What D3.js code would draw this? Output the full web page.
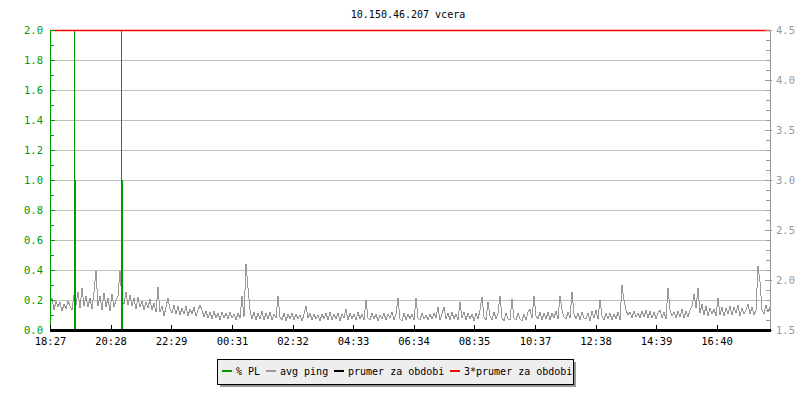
<!DOCTYPE html>
<html><head><meta charset="utf-8">
<script src="https://cdn.jsdelivr.net/npm/d3@7"></script>
<style>
html,body{margin:0;padding:0;background:#fff;}
svg{display:block;}
text{font-family:"DejaVu Sans Mono",monospace;}
</style></head>
<body><svg id="c" width="800" height="400"></svg>
<script>
const title = "10.150.46.207 vcera";
const timeLabels = ["18:27","20:28","22:29","00:31","02:32","04:33","06:34","08:35","10:37","12:38","14:39","16:40"];
const tickMinutes = [0,121,242,364,485,606,727,848,970,1091,1212,1333];
const spanMinutes = 1440;
const sampleStep = 4; // minutes between ping samples
const leftTicks = [0,0.2,0.4,0.6,0.8,1.0,1.2,1.4,1.6,1.8,2.0];
const rightTicks = [1.5,2.0,2.5,3.0,3.5,4.0,4.5];
const legendLabels = ["% PL","avg ping","prumer za obdobi","3*prumer za obdobi"];
const legendColors = ["#009900","#999999","#000000","#ff0000"];
const plMinutes = [49,51,143,145];
const plValues = [2.0,1.0,2.0,1.0];
const meanPing = 1.5;
const tripleMean = 4.5;
const pingValues = [
1.76,1.82,1.70,1.79,1.73,1.78,1.69,1.76,1.71,1.79,1.74,1.70,1.85,1.75,1.88,1.72,1.92,1.74,1.84,1.73,
1.82,1.71,1.88,2.09,1.74,1.84,1.70,1.87,1.73,1.82,1.69,1.86,1.73,1.80,1.84,2.09,1.80,1.76,1.88,1.75,
1.85,1.74,1.82,1.71,1.83,1.73,1.79,1.70,1.78,1.72,1.81,1.70,1.77,1.68,1.93,1.68,1.74,1.64,1.73,1.82,
1.71,1.67,1.75,1.66,1.74,1.65,1.72,1.66,1.74,1.64,1.71,1.66,1.73,1.64,1.70,1.75,1.70,1.63,1.69,1.62,
1.68,1.61,1.69,1.62,1.67,1.60,1.68,1.62,1.67,1.61,1.68,1.62,1.66,1.60,1.67,1.62,1.84,1.63,2.16,1.92,
1.70,1.61,1.68,1.60,1.67,1.61,1.69,1.60,1.67,1.61,1.68,1.60,1.66,1.62,1.84,1.63,1.60,1.67,1.59,1.66,
1.61,1.67,1.60,1.66,1.61,1.65,1.59,1.66,1.74,1.62,1.67,1.60,1.66,1.61,1.65,1.59,1.66,1.61,1.67,1.60,
1.68,1.60,1.66,1.61,1.67,1.59,1.66,1.62,1.71,1.60,1.67,1.61,1.66,1.60,1.68,1.61,1.66,1.60,1.80,1.62,
1.60,1.67,1.61,1.66,1.59,1.65,1.61,1.67,1.60,1.66,1.62,1.68,1.60,1.66,1.82,1.61,1.59,1.67,1.60,1.66,
1.61,1.66,1.60,1.82,1.62,1.60,1.67,1.61,1.65,1.60,1.66,1.61,1.67,1.62,1.73,1.60,1.66,1.73,1.61,1.67,
1.60,1.68,1.61,1.66,1.60,1.78,1.62,1.68,1.60,1.67,1.61,1.66,1.59,1.67,1.61,1.70,1.83,1.63,1.60,1.78,
1.64,1.60,1.68,1.61,1.67,1.84,1.62,1.59,1.67,1.61,1.60,1.81,1.62,1.60,1.67,1.61,1.59,1.66,1.60,1.68,
1.71,1.62,1.84,1.64,1.61,1.68,1.60,1.67,1.61,1.68,1.60,1.67,1.62,1.69,1.61,1.84,1.70,1.63,1.61,1.68,
1.62,1.88,1.66,1.61,1.67,1.60,1.68,1.62,1.61,1.67,1.59,1.69,1.62,1.70,1.61,1.80,1.64,1.60,1.67,1.61,
1.67,1.60,1.66,1.61,1.68,1.60,1.95,1.80,1.70,1.65,1.68,1.62,1.69,1.63,1.67,1.62,1.69,1.63,1.70,1.62,
1.69,1.62,1.68,1.61,1.67,1.70,1.62,1.68,1.61,1.92,1.70,1.64,1.68,1.62,1.69,1.63,1.71,1.62,1.69,1.63,
1.70,1.74,1.86,1.72,1.92,1.67,1.76,1.65,1.74,1.64,1.72,1.66,1.71,1.64,1.82,1.65,1.73,1.64,1.72,1.66,
1.74,1.65,1.73,1.67,1.75,1.64,1.72,1.66,1.70,1.76,1.66,1.73,1.65,1.70,2.14,1.98,1.70,1.66,1.75,1.68,
1.73
];

const svg = d3.select("#c");
const L = 50, R = 770, T = 30, B = 330;
const x = d3.scaleLinear().domain([0, spanMinutes]).range([L, R]);
const yL = d3.scaleLinear().domain([0, 2]).range([B, T]);
const yR = d3.scaleLinear().domain([1.5, 4.5]).range([B, T]);

// title
svg.append("text").attr("x", 408).attr("y", 18).attr("text-anchor", "middle")
  .attr("font-size", 10).attr("fill", "#000").text(title);

// grid lines
svg.append("g").selectAll("line").data(leftTicks.filter(v => v > 0)).join("line")
  .attr("x1", L).attr("x2", R)
  .attr("y1", d => Math.round(yL(d)) + 0.5).attr("y2", d => Math.round(yL(d)) + 0.5)
  .attr("stroke", "#c0c0c0").attr("stroke-width", 1);

// ping line
const line = d3.line().x((d, i) => x(i * sampleStep)).y(d => yR(d));
svg.append("path").datum(pingValues).attr("d", line)
  .attr("fill", "none").attr("stroke", "#999999").attr("stroke-width", 1)
  .attr("shape-rendering", "crispEdges");

// PL impulses
svg.append("g").selectAll("line").data(plMinutes.map((m, i) => [m, plValues[i]])).join("line")
  .attr("x1", d => Math.floor(x(d[0])) + 0.5).attr("x2", d => Math.floor(x(d[0])) + 0.5)
  .attr("y1", B).attr("y2", d => yL(d[1]))
  .attr("stroke", "#009900").attr("stroke-width", 1);

// 3*mean line (red)
svg.append("line").attr("x1", L).attr("x2", R)
  .attr("y1", yR(tripleMean) + 0.5).attr("y2", yR(tripleMean) + 0.5)
  .attr("stroke", "#ff0000").attr("stroke-width", 1.5);

// left axis
const gl = svg.append("g");
gl.append("line").attr("x1", L + 0.5).attr("x2", L + 0.5).attr("y1", T).attr("y2", B)
  .attr("stroke", "#009900");
const minorL = d3.range(0, 21).map(i => i / 10);
gl.selectAll("line.t").data(minorL).join("line").attr("class", "t")
  .attr("x1", L).attr("x2", (d, i) => i % 2 === 0 ? L + 5 : L + 4)
  .attr("y1", d => Math.round(yL(d)) + 0.5).attr("y2", d => Math.round(yL(d)) + 0.5)
  .attr("stroke", "#009900");
gl.selectAll("text").data(leftTicks).join("text")
  .attr("x", 43).attr("y", d => yL(d) + 4).attr("text-anchor", "end")
  .attr("font-size", 10.5).attr("fill", "#009900").text(d => d.toFixed(1));

// right axis
const gr = svg.append("g");
gr.append("line").attr("x1", R + 0.5).attr("x2", R + 0.5).attr("y1", T).attr("y2", B)
  .attr("stroke", "#999999");
const minorR = d3.range(0, 31).map(i => 1.5 + i / 10);
gr.selectAll("line.t").data(minorR).join("line").attr("class", "t")
  .attr("x1", (d, i) => i % 5 === 0 ? R - 5 : R - 4).attr("x2", (d, i) => i % 5 === 0 ? R + 2 : R)
  .attr("y1", d => Math.round(yR(d)) + 0.5).attr("y2", d => Math.round(yR(d)) + 0.5)
  .attr("stroke", "#999999");
gr.selectAll("text").data(rightTicks).join("text")
  .attr("x", 776).attr("y", d => yR(d) + 4)
  .attr("font-size", 10.5).attr("fill", "#999999").text(d => d.toFixed(1));

// mean line (black) / x axis
svg.append("line").attr("x1", L).attr("x2", R + 1)
  .attr("y1", yR(meanPing) + 0.5).attr("y2", yR(meanPing) + 0.5)
  .attr("stroke", "#000").attr("stroke-width", 3);

// x axis ticks and labels
const gx = svg.append("g");
gx.selectAll("line").data(tickMinutes).join("line")
  .attr("x1", d => Math.round(x(d)) + 0.5).attr("x2", d => Math.round(x(d)) + 0.5)
  .attr("y1", B - 5).attr("y2", B)
  .attr("stroke", "#000");
gx.selectAll("text").data(timeLabels).join("text")
  .attr("x", (d, i) => x(tickMinutes[i]) + 0.5).attr("y", 345).attr("text-anchor", "middle")
  .attr("font-size", 10.5).attr("fill", "#000").text(d => d);

// legend
const lg = svg.append("g");
lg.append("rect").attr("x", 220).attr("y", 362).attr("width", 356).attr("height", 25).attr("fill", "#999999");
lg.append("rect").attr("x", 217.5).attr("y", 359.5).attr("width", 356).attr("height", 25)
  .attr("fill", "#eeeeee").attr("stroke", "#000");
const swX = [222, 266, 334, 450];
const items = lg.selectAll("g.i").data(legendLabels).join("g").attr("class", "i");
items.append("rect").attr("x", (d, i) => swX[i]).attr("y", 370).attr("width", 10).attr("height", 2)
  .attr("fill", (d, i) => legendColors[i]);
items.append("text").attr("x", (d, i) => swX[i] + 14).attr("y", 375)
  .attr("font-size", 10).attr("fill", "#000").text(d => d);
</script></body></html>
